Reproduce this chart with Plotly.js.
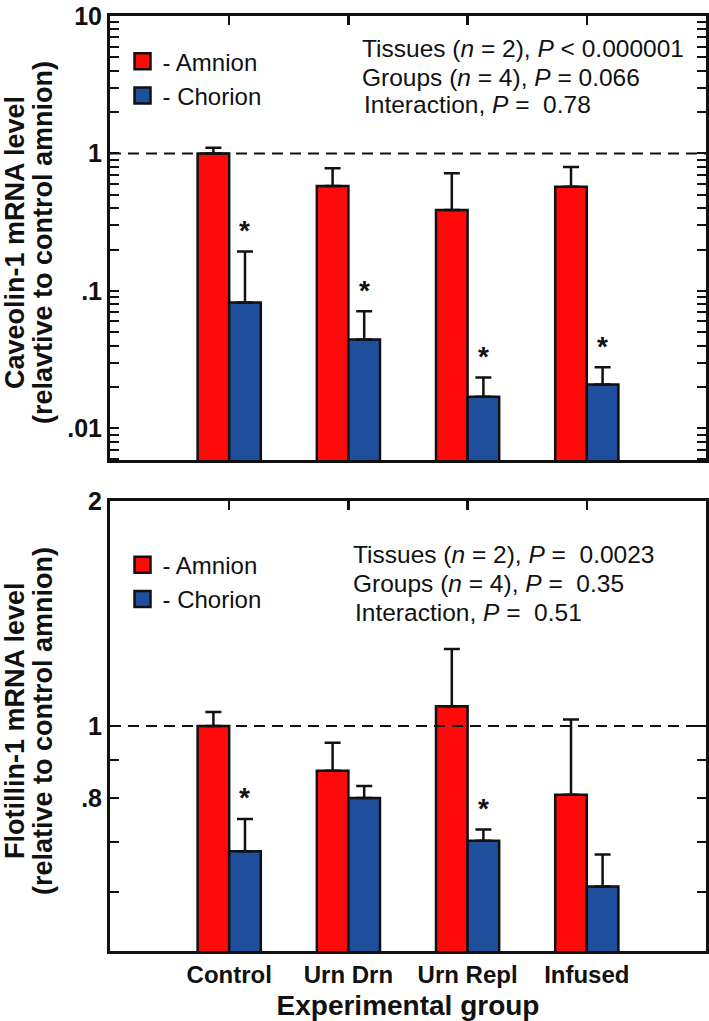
<!DOCTYPE html>
<html>
<head>
<meta charset="utf-8">
<script src="https://cdn.plot.ly/plotly-3.0.1.min.js"></script>
<style>
  html, body { margin: 0; padding: 0; background: #ffffff; }
  #chart { width: 709px; height: 1021px; }
</style>
</head>
<body>
<div id="chart"></div>
<script>
// ---------- data ----------
var groups = ['Control', 'Urn Drn', 'Urn Repl', 'Infused'];

// Caveolin-1 (top panel), relative to control amnion
var cavAmnion      = [1.00, 0.58, 0.388, 0.573];
var cavAmnionErr   = [0.10, 0.20, 0.33, 0.225];
var cavChorion     = [0.0825, 0.0443, 0.0170, 0.0209];
var cavChorionErr  = [0.1115, 0.0268, 0.0065, 0.0070];
var cavStar        = [true, true, true, true];

// Flotillin-1 (bottom panel), relative to control amnion
var floAmnion      = [1.00, 0.871, 1.063, 0.809];
var floAmnionErr   = [0.044, 0.079, 0.205, 0.211];
var floChorion     = [0.680, 0.801, 0.702, 0.610];
var floChorionErr  = [0.071, 0.030, 0.025, 0.063];
var floStar        = [true, false, true, false];

var cavStats = ['Tissues (<i>n</i> = 2), <i>P</i> < 0.000001',
                'Groups (<i>n</i> = 4), <i>P</i> = 0.066',
                'Interaction, <i>P</i> =  0.78'];
var floStats = ['Tissues (<i>n</i> = 2), <i>P</i> =  0.0023',
                'Groups (<i>n</i> = 4), <i>P</i> =  0.35',
                'Interaction, <i>P</i> =  0.51'];

var cavTickVals = [0.01, 0.1, 1, 10];
var cavTickText = ['.01', '.1', '1', '10'];
var floTickVals = [0.8, 1, 2];
var floTickText = ['.8', '1', '2'];
var floMinorVals = [0.6, 0.7, 0.9];

// ---------- style ----------
var FONT = 'Liberation Sans, Arial, Helvetica, sans-serif';
var RED = '#ff0a0a';
var BLUE = '#1f4e9c';
var INK = '#111111';
var BARGAP = 0.47;

function zeros(n){ var a=[]; for(var i=0;i<n;i++) a.push(0); return a; }

// minor log ticks for top panel
var cavMinorVals = [];
[0.001, 0.01, 0.1, 1].forEach(function(d){
  for (var k = 2; k <= 9; k++) cavMinorVals.push(+(k*d).toPrecision(3));
});

function barTrace(vals, errs, color, xa, ya, name){
  return {
    type: 'bar', x: groups, y: vals, name: name, showlegend: false,
    xaxis: xa, yaxis: ya,
    marker: { color: color, line: { color: INK, width: 2.5 } },
    error_y: { type: 'data', symmetric: false, array: errs, arrayminus: zeros(errs.length),
               color: INK, thickness: 2.5, width: 8 }
  };
}
function legendTrace(color, name, xa, ya, lg){
  return {
    type: 'scatter', mode: 'markers', x: [null], y: [null], name: name,
    xaxis: xa, yaxis: ya, legend: lg, showlegend: true, hoverinfo: 'skip',
    marker: { symbol: 'square', size: 16, color: color, line: { color: INK, width: 2.5 } }
  };
}

var data = [
  barTrace(cavAmnion, cavAmnionErr, RED, 'x', 'y', 'Amnion'),
  barTrace(cavChorion, cavChorionErr, BLUE, 'x', 'y', 'Chorion'),
  barTrace(floAmnion, floAmnionErr, RED, 'x2', 'y2', 'Amnion'),
  barTrace(floChorion, floChorionErr, BLUE, 'x2', 'y2', 'Chorion'),
  legendTrace(RED, '- Amnion', 'x3', 'y', 'legend'),
  legendTrace(BLUE, '- Chorion', 'x3', 'y', 'legend'),
  legendTrace(RED, '- Amnion', 'x4', 'y2', 'legend2'),
  legendTrace(BLUE, '- Chorion', 'x4', 'y2', 'legend2')
];

var tickFont = { family: FONT, size: 25, color: INK, weight: 'bold' };

function catAxis(anchor, showLabels){
  return {
    anchor: anchor, domain: [0, 1], type: 'category', range: [-1, 4],
    showline: true, linecolor: INK, linewidth: 3, mirror: true,
    ticks: '', showgrid: false, zeroline: false,
    showticklabels: showLabels,
    tickfont: { family: FONT, size: 24, color: INK, weight: 'bold' }
  };
}
function topTickAxis(over, anchor){
  return {
    overlaying: over, anchor: anchor, side: 'top', type: 'linear', range: [-1, 4],
    tickmode: 'array', tickvals: [0, 1, 2, 3], ticks: 'inside', ticklen: 9,
    tickwidth: 2.5, tickcolor: INK, showticklabels: false, showline: false,
    showgrid: false, zeroline: false
  };
}
function logAxis(domain, anchor, range, tv, tt, minor){
  return {
    domain: domain, anchor: anchor, type: 'log', range: range,
    tickmode: 'array', tickvals: tv, ticktext: tt,
    ticks: 'inside', ticklen: 9, tickwidth: 2, tickcolor: INK,
    minor: { tickmode: 'array', tickvals: minor, ticks: 'inside', ticklen: 7,
             tickwidth: 2, tickcolor: INK, showgrid: false },
    showline: true, linecolor: INK, linewidth: 3, mirror: 'allticks',
    showgrid: false, zeroline: false, tickfont: tickFont,
    ticklabeloverflow: 'allow'
  };
}

var xa2 = catAxis('y2', true);
xa2.title = { text: 'Experimental group', standoff: 11,
              font: { family: FONT, size: 28, color: INK, weight: 'bold' } };

var annotations = [];
// significance stars above chorion error bars
var chorionOffset = (1 - BARGAP) / 4;
function addStars(flags, vals, errs, xr, yr){
  flags.forEach(function(f, i){
    if (!f) return;
    annotations.push({
      xref: xr, yref: yr, x: i + chorionOffset, y: Math.log10(vals[i] + errs[i]),
      text: '*', showarrow: false, yanchor: 'middle', yshift: 21,
      font: { family: FONT, size: 28, color: INK, weight: 'bold' }
    });
  });
}
addStars(cavStar, cavChorion, cavChorionErr, 'x', 'y');
addStars(floStar, floChorion, floChorionErr, 'x2', 'y2');

// statistics text
function addStats(lines, xr, yr, xs, ys){
  lines.forEach(function(t, i){
    annotations.push({
      xref: xr, yref: yr, x: xs[i], y: ys[i], xanchor: 'left', yanchor: 'middle',
      text: t, showarrow: false, align: 'left',
      font: { family: FONT, size: 24.5, color: INK }
    });
  });
}
addStats(cavStats, 'x domain', 'y domain', [0.4195, 0.4195, 0.4228], [0.9257, 0.8626, 0.8018]);
addStats(floStats, 'x2 domain', 'y2 domain', [0.4044, 0.4044, 0.4077], [0.882, 0.8156, 0.753]);

// y-axis titles (two lines each, tight leading)
function addYTitle(l1, l2, yr, yshift){
  [[l1, -95], [l2, -67]].forEach(function(p){
    annotations.push({
      xref: 'paper', yref: yr, x: 0, y: 0.5, xanchor: 'center', yanchor: 'middle',
      xshift: p[1], yshift: yshift, textangle: -90, text: p[0], showarrow: false,
      font: { family: FONT, size: 27, color: INK, weight: 'bold' }
    });
  });
}
addYTitle('Caveolin-1 mRNA level', '(relavtive to control amnion)', 'y domain', -5);
addYTitle('Flotillin-1 mRNA level', '(relative to control amnion)', 'y2 domain', 5);

var legendStyle = {
  bgcolor: 'rgba(0,0,0,0)', borderwidth: 0, xanchor: 'left', yanchor: 'top',
  font: { family: FONT, size: 24, color: INK }, tracegroupgap: 0
};

var layout = {
  width: 709, height: 1021,
  margin: { l: 110, r: 3, t: 16, b: 70 },
  paper_bgcolor: '#ffffff', plot_bgcolor: '#ffffff',
  font: { family: FONT, color: INK },
  barmode: 'group', bargap: BARGAP, bargroupgap: 0,
  xaxis: catAxis('y', false),
  xaxis2: xa2,
  xaxis3: topTickAxis('x', 'y'),
  xaxis4: topTickAxis('x2', 'y2'),
  yaxis: logAxis([0.5251, 1], 'x', [-2.23, 1], cavTickVals, cavTickText, cavMinorVals),
  yaxis2: logAxis([0, 0.4813], 'x2', [Math.log10(0.5), Math.log10(2)], floTickVals, floTickText, floMinorVals),
  legend: Object.assign({ x: 0.021, y: 0.9752 }, legendStyle),
  legend2: Object.assign({ x: 0.021, y: 0.4368 }, legendStyle),
  shapes: [
    { type: 'line', xref: 'x domain', yref: 'y', x0: 0, x1: 1, y0: 1, y1: 1, layer: 'above',
      line: { color: INK, width: 2, dash: '11px,7px' } },
    { type: 'line', xref: 'x2 domain', yref: 'y2', x0: 0, x1: 1, y0: 1, y1: 1, layer: 'above',
      line: { color: INK, width: 2, dash: '11px,7px' } }
  ],
  annotations: annotations
};

Plotly.newPlot('chart', data, layout, { displayModeBar: false, staticPlot: true });
</script>
</body>
</html>
